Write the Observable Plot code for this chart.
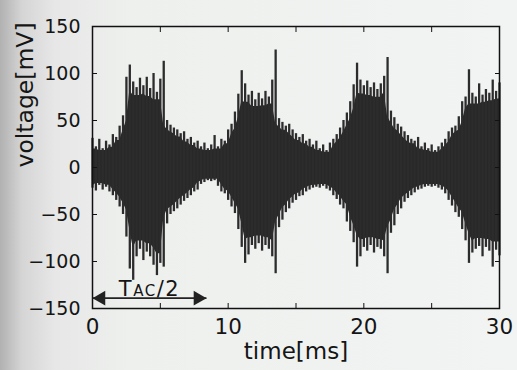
<!DOCTYPE html>
<html><head><meta charset="utf-8">
<script src="https://cdn.jsdelivr.net/npm/d3@7"></script>
<script src="https://cdn.jsdelivr.net/npm/@observablehq/plot@0.6"></script>
<style>
html,body{margin:0;padding:0;}
body{width:517px;height:370px;overflow:hidden;background:linear-gradient(90deg,#b0b1b0 0px,#d4d5d4 22px,#e6e7e6 55px,#eef0ee 130px,#f2f4f3 100%);font-family:"DejaVu Sans",sans-serif;}
#chart svg{display:block;overflow:visible;}
</style></head><body><div id="chart"></div>
<script>
// sample times (ms)
const time = [0,0.25,0.5,0.75,1,1.25,1.5,1.75,2,2.25,2.5,2.75,3,3.25,3.5,3.75,4,4.25,4.5,4.75,5,5.25,5.5,5.75,6,6.25,6.5,6.75,7,7.25,7.5,7.75,8,8.25,8.5,8.75,9,9.25,9.5,9.75,10,10.25,10.5,10.75,11,11.25,11.5,11.75,12,12.25,12.5,12.75,13,13.25,13.5,13.75,14,14.25,14.5,14.75,15,15.25,15.5,15.75,16,16.25,16.5,16.75,17,17.25,17.5,17.75,18,18.25,18.5,18.75,19,19.25,19.5,19.75,20,20.25,20.5,20.75,21,21.25,21.5,21.75,22,22.25,22.5,22.75,23,23.25,23.5,23.75,24,24.25,24.5,24.75,25,25.25,25.5,25.75,26,26.25,26.5,26.75,27,27.25,27.5,27.75,28,28.25,28.5,28.75,29,29.25,29.5,29.75,30];
// upper envelope of the signal (mV)
const upper = [31,22,30,20,28,24,35,32,44,55,96,109,91,85,95,87,96,84,100,80,94,113,50,45,42,40,36,38,30,32,26,28,22,26,20,24,34,22,30,28,40,46,59,78,103,89,77,81,72,79,73,81,75,93,125,52,48,44,46,40,36,32,35,28,30,24,28,20,24,18,26,30,35,42,50,58,70,88,111,93,87,92,85,90,83,89,97,117,60,53,46,43,38,34,30,28,32,22,26,20,24,18,22,26,30,38,42,44,54,70,75,104,79,75,89,77,83,79,93,81,90];
// lower envelope of the signal (mV)
const lower = [-22,-25,-19,-24,-21,-26,-30,-35,-42,-50,-74,-108,-120,-95,-87,-99,-90,-95,-104,-115,-102,-106,-60,-50,-47,-44,-40,-36,-33,-30,-26,-24,-18,-16,-14,-15,-14,-20,-26,-28,-35,-42,-49,-66,-85,-102,-93,-83,-87,-81,-89,-83,-87,-95,-113,-64,-56,-48,-44,-38,-35,-31,-30,-26,-24,-22,-21,-22,-20,-23,-25,-30,-34,-40,-44,-58,-68,-80,-106,-95,-85,-89,-83,-91,-85,-87,-95,-113,-70,-62,-50,-44,-37,-33,-30,-27,-24,-23,-21,-20,-21,-20,-22,-24,-28,-35,-41,-48,-53,-66,-78,-102,-91,-87,-84,-95,-85,-89,-106,-88,-94];

const xTicks = [0,5,10,15,20,25,30];
const xLabels = [0,10,20,30];
const yTicks = [-150,-100,-50,0,50,100,150];
const xTitle = "time[ms]";
const yTitle = "voltage[mV]";
const annotation = {text: "TAC/2", from: 0, to: 8.4, level: -139};

// dense core of the trace = the lowest neighbouring peak, drawn slightly inside it
const samples = time.map((t, i) => ({
  t,
  hi: upper[i],
  lo: lower[i],
  coreHi: 0.9 * d3.min(upper.slice(Math.max(0, i - 1), i + 2)),
  coreLo: 0.9 * d3.max(lower.slice(Math.max(0, i - 1), i + 2))
}));

const ink = "#282828";

const chart = Plot.plot({
  width: 517,
  height: 370,
  marginTop: 26,
  marginRight: 18,
  marginBottom: 62,
  marginLeft: 92,
  style: {background: "transparent", fontFamily: "'DejaVu Sans', sans-serif", color: "#151515"},
  x: {domain: [0, 30]},
  y: {domain: [-150, 150]},
  marks: [
    Plot.areaY(samples, {x: "t", y1: "coreLo", y2: "coreHi", fill: ink, curve: "linear"}),
    Plot.ruleX(samples, {x: "t", y1: "lo", y2: "hi", stroke: "#2c2c2c", strokeWidth: 2.3}),
    Plot.frame({stroke: "#111", strokeWidth: 1.5}),
    Plot.axisX({ticks: xTicks, anchor: "bottom", tickSize: -5, tickFormat: () => "", fill: "none", label: null, stroke: "#111"}),
    Plot.axisX({ticks: xTicks, anchor: "top", tickSize: -5, tickFormat: () => "", fill: "none", label: null, stroke: "#111"}),
    Plot.axisY({ticks: yTicks, anchor: "left", tickSize: -5, tickFormat: () => "", fill: "none", label: null, stroke: "#111"}),
    Plot.axisY({ticks: yTicks, anchor: "right", tickSize: -5, tickFormat: () => "", fill: "none", label: null, stroke: "#111"}),
    Plot.axisX({ticks: xLabels, anchor: "bottom", tickSize: 0, tickPadding: 10, fontSize: 21.5, label: null}),
    Plot.axisY({ticks: yTicks, anchor: "left", tickSize: 0, tickPadding: 12, fontSize: 19, label: null}),
    Plot.text([xTitle], {frameAnchor: "bottom", dy: 50, fontSize: 23, text: d => d, fill: "#151515"}),
    Plot.text([yTitle], {frameAnchor: "left", dx: -67, rotate: -90, fontSize: 23.5, text: d => d, fill: "#151515"}),
    Plot.link([annotation], {x1: "from", x2: "to", y1: "level", y2: "level", stroke: "#222", strokeWidth: 1.6}),
    Plot.dot([annotation], {x: "from", y: "level", symbol: "triangle", r: 5.5, rotate: -90, dx: 8.5, fill: "#222", stroke: "none"}),
    Plot.dot([annotation], {x: "to", y: "level", symbol: "triangle", r: 5.5, rotate: 90, dx: -8.5, fill: "#222", stroke: "none"}),
    Plot.text([annotation], {x: d => (d.from + d.to) / 2, y: "level", text: "text", lineAnchor: "bottom", dy: -2, fontSize: 21, fill: "#151515", className: "tac-label"})
  ]
});

document.getElementById("chart").appendChild(chart);

// small-caps styling of the subscript in the annotation
chart.querySelectorAll(".tac-label text").forEach(el => {
  const s = el.textContent;
  el.textContent = "";
  const parts = [[s.slice(0, 1), 21], [s.slice(1, 3), 15], [s.slice(3), 21]];
  for (const [str, size] of parts) {
    const ts = document.createElementNS("http://www.w3.org/2000/svg", "tspan");
    ts.setAttribute("font-size", size);
    ts.textContent = str;
    el.appendChild(ts);
  }
  el.setAttribute("letter-spacing", "1.5");
});
</script>
</body></html>
